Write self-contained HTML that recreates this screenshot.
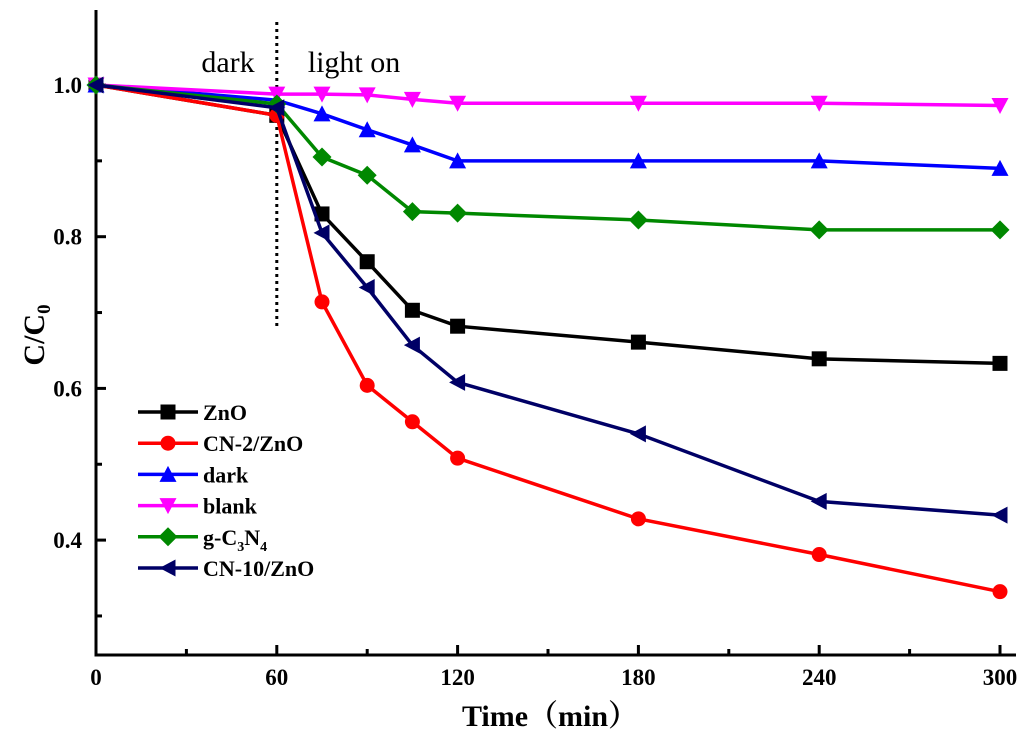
<!DOCTYPE html>
<html><head><meta charset="utf-8"><style>
body{margin:0;background:#fff;}
svg{display:block;font-family:"Liberation Serif","Noto Serif CJK SC",serif;}
</style></head><body>
<svg id="c" width="1024" height="737"></svg>
<script>
const times=[0,60,75,90,105,120,180,240,300];
const zno=[1.0,0.96,0.83,0.767,0.703,0.682,0.661,0.639,0.633];
const cn2=[1.0,0.96,0.714,0.604,0.556,0.508,0.428,0.381,0.332];
const dark=[1.0,0.98,0.962,0.941,0.921,0.900,0.900,0.900,0.890];
const blank=[1.0,0.988,0.988,0.987,0.981,0.976,0.976,0.976,0.973];
const gcn=[1.0,0.975,0.905,0.881,0.833,0.831,0.822,0.809,0.809];
const cn10=[1.0,0.97,0.805,0.733,0.657,0.608,0.54,0.451,0.433];
const xTicks=[0,60,120,180,240,300];
const yTicks=[0.4,0.6,0.8,1.0];
const seriesNames=["ZnO","CN-2/ZnO","dark","blank","g-C3N4","CN-10/ZnO"];
const NS="http://www.w3.org/2000/svg";
const svg=document.getElementById('c');
const X=t=>96+t*(904/300);
const Y=v=>85+(1.0-v)*(151.7/0.2);
function el(tag,attrs,parent){const e=document.createElementNS(NS,tag);for(const k in attrs)e.setAttribute(k,attrs[k]);(parent||svg).appendChild(e);return e;}
const ax=el('path',{d:`M96,10 V655 H1016`,fill:'none',stroke:'#000','stroke-width':3});


for(let t=0;t<=300;t+=30){const major=t%60===0;const tk=el('line',{x1:X(t),x2:X(t),y1:655,y2:major?645:649,stroke:'#000','stroke-width':3});

}
xTicks.forEach(t=>{const tx=el('text',{x:X(t),y:685,'text-anchor':'middle','font-size':23,'font-weight':'bold'});tx.textContent=t;

});
for(let v=0.3;v<=1.05;v+=0.1){const vv=Math.round(v*10)/10;const major=Math.round(vv*10)%2===0;const tk=el('line',{x1:96,x2:major?106:102,y1:Y(vv),y2:Y(vv),stroke:'#000','stroke-width':3});

}
yTicks.forEach(v=>{const tx=el('text',{x:82,y:Y(v)+8,'text-anchor':'end','font-size':23,'font-weight':'bold'});tx.textContent=v.toFixed(1);

});
const xt=el('text',{x:550,y:726,'text-anchor':'middle','font-size':30,'font-weight':'bold'});xt.textContent='Time（min）';


const yt=el('text',{transform:'translate(44,335) rotate(-90)','text-anchor':'middle','font-size':30,'font-weight':'bold'});
yt.innerHTML='C/C<tspan font-size="19" dy="6">0</tspan>';


const dv=el('line',{x1:X(60),x2:X(60),y1:22,y2:330,stroke:'#000','stroke-width':3,'stroke-dasharray':'3,4'});


const d1=el('text',{x:228,y:72,'text-anchor':'middle','font-size':30});d1.textContent='dark';


const d2=el('text',{x:354,y:72,'text-anchor':'middle','font-size':30});d2.textContent='light on';


function marker(type,x,y,color,g){const s=7.5;let e;
if(type==='sq')e=el('rect',{x:x-s,y:y-s,width:2*s,height:2*s,fill:color},g);
else if(type==='ci')e=el('circle',{cx:x,cy:y,r:s,fill:color},g);
else if(type==='up')e=el('polygon',{points:`${x},${y-s-1} ${x-s-1},${y+s} ${x+s+1},${y+s}`,fill:color},g);
else if(type==='dn')e=el('polygon',{points:`${x},${y+s+1} ${x-s-1},${y-s} ${x+s+1},${y-s}`,fill:color},g);
else if(type==='di')e=el('polygon',{points:`${x},${y-s-2} ${x+s+2},${y} ${x},${y+s+2} ${x-s-2},${y}`,fill:color},g);
else e=el('polygon',{points:`${x-s-1},${y} ${x+s},${y-s-1} ${x+s},${y+s+1}`,fill:color},g);

}
const series=[[zno,'#000','sq'],[cn2,'#f00','ci'],[dark,'#00f','up'],[blank,'#f0f','dn'],[gcn,'#080','di'],[cn10,'#006','le']];
series.forEach((s,i)=>{const g=el('g',{});


el('polyline',{points:times.map((t,j)=>X(t)+','+Y(s[0][j])).join(' '),fill:'none',stroke:s[1],'stroke-width':3.5},g);
times.forEach((t,j)=>marker(s[2],X(t),Y(s[0][j]),s[1],g));
const ly=412+i*31.2;const lg=el('g',{});


el('line',{x1:138,x2:198,y1:ly,y2:ly,stroke:s[1],'stroke-width':3.5},lg);
marker(s[2],168,ly,s[1],lg);
const tx=el('text',{x:203,y:ly+8,'font-size':22,'font-weight':'bold'},lg);
if(i===4)tx.innerHTML='g-C<tspan font-size="14" dy="6">3</tspan><tspan dy="-6">N</tspan><tspan font-size="14" dy="6">4</tspan>';
else tx.textContent=seriesNames[i];
});
</script>
</body></html>
